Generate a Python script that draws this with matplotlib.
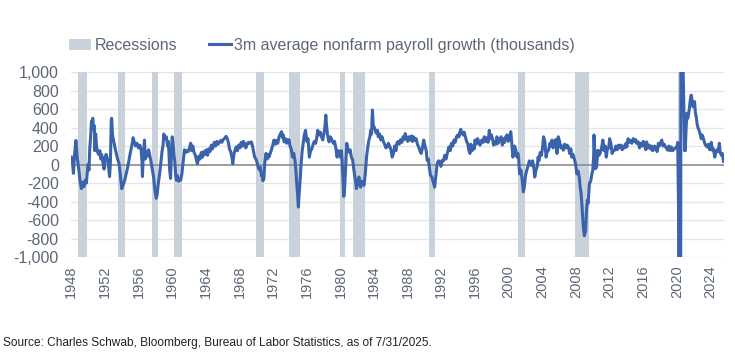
import matplotlib
matplotlib.use("Agg")
import matplotlib.pyplot as plt
from matplotlib.patches import Patch
from matplotlib.lines import Line2D
import numpy as np

plt.rcParams['font.family'] = ['Liberation Sans', 'DejaVu Sans']

# Recession periods (decimal years, NBER peak -> trough)
rec_start = [1948.83, 1953.5, 1957.58, 1960.25, 1969.92, 1973.83, 1980.0, 1981.5, 1990.5, 2001.17, 2007.92, 2020.08]
rec_end   = [1949.83, 1954.42, 1958.33, 1961.17, 1970.92, 1975.25, 1980.58, 1982.92, 1991.25, 2001.92, 2009.5, 2020.33]

# 3m average nonfarm payroll growth (thousands)
dates = [
 1948.0, 1948.15, 1948.25, 1948.4, 1948.55, 1948.7, 1948.9, 1949.05, 1949.2, 1949.35, 1949.5, 1949.65, 1949.8, 1949.9,
 1950.0, 1950.1, 1950.2, 1950.3, 1950.4, 1950.5, 1950.55, 1950.65, 1950.75, 1950.8, 1950.9,
 1951.0, 1951.1, 1951.25, 1951.4, 1951.5, 1951.6, 1951.75, 1951.9,
 1952.0, 1952.15, 1952.3, 1952.45, 1952.55, 1952.65, 1952.75, 1952.8, 1952.9,
 1953.05, 1953.2, 1953.35, 1953.5, 1953.65, 1953.8, 1953.9,
 1954.0, 1954.1, 1954.25, 1954.4, 1954.55, 1954.7, 1954.85,
 1955.0, 1955.1, 1955.25, 1955.35, 1955.5, 1955.65, 1955.8,
 1956.0, 1956.15, 1956.3, 1956.4, 1956.46, 1956.55, 1956.7, 1956.8, 1956.9,
 1957.05, 1957.2, 1957.35, 1957.5, 1957.65, 1957.8, 1957.95,
 1958.1, 1958.2, 1958.35, 1958.5, 1958.65, 1958.8, 1958.9,
 1959.0, 1959.15, 1959.3, 1959.45, 1959.55, 1959.7, 1959.8, 1959.9,
 1960.0, 1960.1, 1960.2, 1960.3, 1960.4, 1960.5, 1960.6, 1960.75, 1960.9,
 1961.0, 1961.15, 1961.3, 1961.45, 1961.6, 1961.75, 1961.9,
 1962.05, 1962.2, 1962.3, 1962.45, 1962.6, 1962.75, 1962.9,
 1963.0, 1963.15, 1963.3, 1963.45, 1963.6, 1963.75, 1963.9,
 1964.05, 1964.2, 1964.35, 1964.5, 1964.65, 1964.8,
 1965.0, 1965.15, 1965.3, 1965.45, 1965.6, 1965.75, 1965.9,
 1966.05, 1966.2, 1966.4, 1966.55, 1966.7, 1966.8, 1966.95,
 1967.1, 1967.2, 1967.35, 1967.5, 1967.6, 1967.75, 1967.9,
 1968.05, 1968.2, 1968.35, 1968.45, 1968.6, 1968.75, 1968.9,
 1969.05, 1969.2, 1969.4, 1969.5, 1969.65, 1969.8, 1969.95,
 1970.1, 1970.25, 1970.4, 1970.5, 1970.6, 1970.7, 1970.78, 1970.9,
 1971.0, 1971.15, 1971.3, 1971.4, 1971.5, 1971.65, 1971.8, 1971.95,
 1972.1, 1972.25, 1972.4, 1972.55, 1972.7, 1972.85,
 1973.0, 1973.1, 1973.2, 1973.3, 1973.45, 1973.6, 1973.75, 1973.9,
 1974.0, 1974.15, 1974.3, 1974.45, 1974.6, 1974.7, 1974.8, 1974.9,
 1975.0, 1975.1, 1975.2, 1975.3, 1975.45, 1975.6, 1975.7, 1975.85,
 1976.0, 1976.15, 1976.3, 1976.45, 1976.6, 1976.75, 1976.9,
 1977.05, 1977.2, 1977.3, 1977.45, 1977.6, 1977.75, 1977.9,
 1978.05, 1978.15, 1978.26, 1978.35, 1978.45, 1978.55, 1978.65, 1978.8,
 1979.0, 1979.15, 1979.3, 1979.45, 1979.6, 1979.75, 1979.9,
 1980.0, 1980.1, 1980.2, 1980.3, 1980.4, 1980.5, 1980.6, 1980.7, 1980.75, 1980.85,
 1981.0, 1981.15, 1981.3, 1981.45, 1981.6, 1981.75, 1981.9,
 1982.05, 1982.2, 1982.3, 1982.4, 1982.55, 1982.7, 1982.8, 1982.95,
 1983.1, 1983.2, 1983.35, 1983.5, 1983.6, 1983.7, 1983.8, 1983.9,
 1984.0, 1984.1, 1984.25, 1984.4, 1984.5, 1984.65, 1984.8, 1984.95,
 1985.1, 1985.25, 1985.4, 1985.55, 1985.7, 1985.85,
 1986.0, 1986.15, 1986.3, 1986.45, 1986.6, 1986.7, 1986.85,
 1987.0, 1987.15, 1987.3, 1987.45, 1987.6, 1987.7, 1987.85,
 1988.0, 1988.15, 1988.3, 1988.45, 1988.55, 1988.7, 1988.85,
 1989.0, 1989.15, 1989.3, 1989.45, 1989.6, 1989.75, 1989.9,
 1990.05, 1990.2, 1990.3, 1990.45, 1990.55, 1990.7, 1990.85,
 1991.0, 1991.2, 1991.35, 1991.5, 1991.65, 1991.8, 1991.95,
 1992.1, 1992.25, 1992.4, 1992.55, 1992.7, 1992.9,
 1993.05, 1993.2, 1993.35, 1993.5, 1993.65, 1993.8, 1993.95,
 1994.1, 1994.2, 1994.3, 1994.45, 1994.6, 1994.7, 1994.85,
 1995.0, 1995.15, 1995.25, 1995.4, 1995.5, 1995.65, 1995.8, 1995.9,
 1996.0, 1996.15, 1996.3, 1996.45, 1996.6, 1996.8, 1996.95,
 1997.1, 1997.25, 1997.4, 1997.55, 1997.7, 1997.8, 1997.95,
 1998.1, 1998.2, 1998.35, 1998.5, 1998.6, 1998.75, 1998.9,
 1999.0, 1999.1, 1999.25, 1999.4, 1999.5, 1999.65, 1999.8, 1999.95,
 2000.1, 2000.25, 2000.35, 2000.5, 2000.6, 2000.7, 2000.85,
 2001.0, 2001.1, 2001.2, 2001.3, 2001.45, 2001.6, 2001.75, 2001.85,
 2002.0, 2002.15, 2002.3, 2002.45, 2002.6, 2002.7, 2002.85,
 2003.0, 2003.1, 2003.25, 2003.4, 2003.5, 2003.6, 2003.75, 2003.9,
 2004.05, 2004.15, 2004.3, 2004.45, 2004.6, 2004.75, 2004.9,
 2005.05, 2005.15, 2005.3, 2005.45, 2005.6, 2005.75, 2005.9,
 2006.05, 2006.2, 2006.35, 2006.5, 2006.65, 2006.8, 2006.95,
 2007.1, 2007.25, 2007.4, 2007.5, 2007.65, 2007.8, 2007.9,
 2008.0, 2008.1, 2008.25, 2008.4, 2008.5, 2008.6, 2008.7, 2008.8, 2008.9,
 2009.0, 2009.15, 2009.25, 2009.35, 2009.45, 2009.6, 2009.75, 2009.9,
 2010.0, 2010.1, 2010.15, 2010.3, 2010.45, 2010.6, 2010.75, 2010.9,
 2011.05, 2011.2, 2011.35, 2011.5, 2011.6, 2011.75, 2011.9,
 2012.0, 2012.15, 2012.3, 2012.45, 2012.6, 2012.75, 2012.9,
 2013.05, 2013.2, 2013.35, 2013.5, 2013.65, 2013.8, 2013.95,
 2014.05, 2014.2, 2014.35, 2014.5, 2014.65, 2014.8, 2014.95,
 2015.1, 2015.2, 2015.4, 2015.55, 2015.7, 2015.85,
 2016.0, 2016.15, 2016.3, 2016.4, 2016.55, 2016.7, 2016.85,
 2017.0, 2017.1, 2017.2, 2017.35, 2017.5, 2017.65, 2017.8, 2017.9,
 2018.05, 2018.2, 2018.35, 2018.5, 2018.65, 2018.8, 2018.9,
 2019.05, 2019.2, 2019.35, 2019.5, 2019.6, 2019.75, 2019.9,
 2020.0, 2020.1, 2020.17, 2020.2, 2020.25, 2020.33, 2020.42, 2020.5, 2020.58, 2020.67, 2020.75, 2020.83, 2020.92,
 2021.0, 2021.1, 2021.2, 2021.3, 2021.45, 2021.6, 2021.7, 2021.8, 2021.9,
 2022.0, 2022.1, 2022.2, 2022.3, 2022.4, 2022.5, 2022.6, 2022.7, 2022.8, 2022.9,
 2023.0, 2023.1, 2023.2, 2023.35, 2023.5, 2023.6, 2023.75, 2023.9,
 2024.0, 2024.1, 2024.2, 2024.35, 2024.5, 2024.6, 2024.75, 2024.9,
 2025.0, 2025.05, 2025.15, 2025.3, 2025.4, 2025.55,
]
payroll = [
 80, 20, -95, 120, 260, 80, -60, -180, -260, -190, -240, -170, -200, -80,
 0, -60, 180, 300, 470, 440, 500, 380, 420, 150, 330,
 200, 140, 110, 150, 60, 110, 30, -50,
 80, 110, 60, -40, -130, 20, 480, 500, 320,
 250, 180, 120, 60, 20, -80, -180,
 -260, -230, -200, -150, -90, -30, 40,
 120, 160, 230, 290, 240, 200, 230,
 180, 210, 160, 40, -130, 80, 265, 60, 140,
 90, 160, 90, 20, -60, -150, -280,
 -365, -330, -200, -100, 30, 150, 200,
 330, 280, 300, 200, 250, -60, -150, 100,
 300, 220, 100, 40, -100, -170, -120, -180, -150,
 -170, -100, 30, 160, 130, 150, 140,
 180, 230, 150, 200, 130, 100, 40,
 10, 90, 60, 130, 80, 140, 110,
 160, 100, 170, 140, 210, 170,
 240, 200, 250, 220, 240, 260, 240,
 270, 280, 305, 280, 230, 170, 140,
 80, 10, 120, 160, 190, 150, 210,
 180, 240, 200, 250, 230, 180, 220,
 240, 230, 245, 220, 150, 80, 60,
 20, -40, -60, -30, -120, -100, -175, -150,
 20, 120, 60, 110, 80, 120, 160, 210,
 265, 220, 260, 230, 300, 330,
 355, 290, 320, 245, 280, 230, 270, 265,
 200, 170, 80, 120, 40, -60, -200, -320,
 -460, -300, -180, -25, 150, 250, 320, 370,
 250, 280, 80, 150, 170, 220, 250,
 230, 300, 370, 320, 350, 300, 265,
 350, 400, 535, 420, 330, 280, 245, 300,
 265, 230, 250, 180, 80, 150, 100,
 80, 150, 40, -150, -345, -250, -50, 150, 230, 180,
 135, 160, 80, 50, -60, -150, -260,
 -200, -135, -200, -245, -180, -200, -225, -100,
 80, 155, 250, 300, 370, 330, 590, 420,
 410, 380, 340, 370, 300, 330, 265, 300,
 250, 220, 180, 190, 230, 200,
 160, 80, 120, 200, 150, 230, 250,
 220, 270, 240, 300, 270, 335, 290,
 250, 300, 265, 310, 250, 300, 260,
 280, 220, 190, 150, 120, 180, 265,
 200, 150, 45, 60, -20, -115, -130,
 -180, -245, -120, 10, 40, 30, -20,
 45, 40, 100, 60, 120, 190,
 150, 230, 200, 265, 240, 300, 320,
 300, 350, 380, 340, 320, 350, 300,
 250, 220, 160, 120, 220, 150, 200, 170,
 265, 220, 280, 250, 210, 265, 240,
 300, 250, 290, 240, 370, 280, 320,
 270, 210, 250, 220, 300, 230, 260,
 265, 300, 210, 280, 240, 300, 320, 250,
 300, 355, 260, 80, 120, 200, 160,
 80, 120, 50, -100, -60, -160, -295, -250,
 -120, -60, -20, 40, 20, -10, 40,
 -40, -135, -60, -20, 80, 40, 130, 100,
 200, 300, 250, 80, 150, 155, 230,
 200, 265, 180, 250, 270, 120, 300,
 250, 180, 200, 155, 220, 180, 210,
 190, 120, 170, 80, 110, 60, 30,
 -20, -100, -70, -140, -245, -300, -420, -570, -700,
 -770, -720, -500, -385, -420, -205, -180, -100,
 -60, 80, 320, -45, -30, 155, 100, 130,
 180, 265, 150, 200, 80, 170, 180,
 280, 230, 120, 150, 155, 200, 160,
 210, 180, 210, 160, 200, 180, 230,
 190, 280, 240, 260, 230, 280, 250,
 270, 230, 245, 180, 230, 200,
 250, 210, 160, 245, 180, 210, 170,
 200, 150, 155, 200, 180, 140, 230, 200,
 230, 265, 200, 220, 190, 175, 155,
 200, 150, 190, 150, 160, 175, 185,
 190, 240, -300, -500, -7000, -6000, -4300, 3100, 4000, 2600, 1000, 600, 150,
 150, 400, 555, 500, 580, 700, 750, 700, 625,
 640, 680, 560, 520, 445, 400, 380, 350, 320, 280,
 320, 300, 265, 220, 200, 190, 220, 160,
 200, 240, 155, 170, 80, 120, 160, 140,
 200, 230, 130, 100, 120, 35,
]

xticks = list(range(1948, 2025, 4))
yticks = list(range(-1000, 1001, 200))

fig = plt.figure(figsize=(7.35, 3.55), dpi=100)
ax = fig.add_axes([0.097, 0.276, 0.888, 0.521])

line_color = '#3a63ab'
rec_color = '#c9d1da'
txt_color = '#5d6775'

for s, e in zip(rec_start, rec_end):
    ax.axvspan(s, e, color=rec_color, lw=0, zorder=1)

for y in yticks:
    if y != 0:
        ax.axhline(y, color='#e4e6e9', lw=1.0, zorder=0)
ax.axhline(0, color='#8c8c8c', lw=1.2, zorder=2)

ax.plot(dates, payroll, color=line_color, lw=2.2, zorder=3, solid_joinstyle='round')

ax.set_xlim(1948.0, 2025.6)
ax.set_ylim(-1000, 1000)
ax.set_xticks(xticks)
ax.set_xticklabels([str(x) for x in xticks], rotation=90, fontsize=10.5, color=txt_color)
ax.set_yticks(yticks)
ax.set_yticklabels([f"{y:,}" for y in yticks], fontsize=11.5, color=txt_color)
ax.tick_params(axis='x', length=0, pad=6)
ax.tick_params(axis='y', length=0, pad=9)
for sp in ax.spines.values():
    sp.set_visible(False)

handles = [Patch(facecolor=rec_color, edgecolor='none'),
           Line2D([0], [0], color=line_color, lw=2.2)]
labels = ['Recessions', '3m average nonfarm payroll growth (thousands)']
fig.legend(handles, labels, loc='center left', bbox_to_anchor=(0.074, 0.872), ncol=2,
           frameon=False, fontsize=11.5, handlelength=1.4, handletextpad=0.2,
           columnspacing=2.0, labelcolor=txt_color)

fig.text(0.004, 0.034, 'Source: Charles Schwab, Bloomberg, Bureau of Labor Statistics, as of 7/31/2025.',
         fontsize=8.6, color='#222222', ha='left', va='center')

fig.savefig('out.png', dpi=100, facecolor='white')
